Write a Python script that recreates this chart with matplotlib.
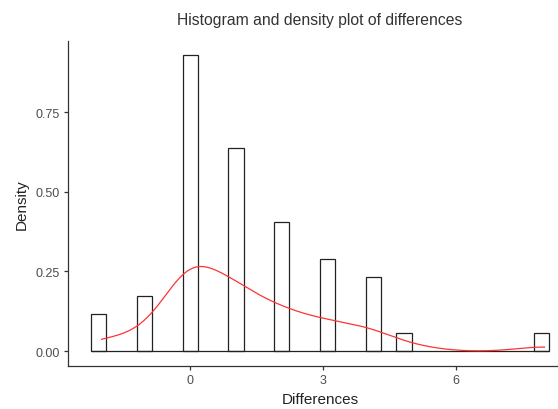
import numpy as np
import matplotlib
matplotlib.use('Agg')
import matplotlib.pyplot as plt

plt.rcParams['font.family'] = ['Liberation Sans', 'DejaVu Sans']

# observed differences and how often each one occurs
diff_values = [-2, -1, 0, 1, 2, 3, 4, 5, 8]
diff_counts = [2, 3, 16, 11, 7, 5, 4, 1, 1]

data = np.repeat(diff_values, diff_counts).astype(float)
n = len(data)

# ggplot2 style binning: 30 bins, boundary at width/2
n_bins = 30
width = (data.max() - data.min()) / (n_bins - 1)
boundary = width / 2
shift = np.floor((data.min() - boundary) / width)
origin = boundary + shift * width
edges = origin + width * np.arange(0, n_bins + 2)
edges = edges[edges <= data.max() + width]
# right-closed bins
idx = np.searchsorted(edges, data - 1e-9, side='left') - 1
counts = np.bincount(idx, minlength=len(edges) - 1)[:len(edges) - 1]
dens = counts / (n * width)
centers = (edges[:-1] + edges[1:]) / 2

# gaussian kde with bw.nrd0
q75, q25 = np.percentile(data, [75, 25])
bw = 0.9 * min(np.std(data, ddof=1), (q75 - q25) / 1.34) * n ** -0.2
xs = np.linspace(data.min(), data.max(), 512)
kde = np.exp(-0.5 * ((xs[:, None] - data[None, :]) / bw) ** 2).sum(axis=1) / (n * bw * np.sqrt(2 * np.pi))

fig = plt.figure(figsize=(5.58, 4.10), dpi=100)
ax = fig.add_axes([68 / 558, 43 / 410, 504 / 558, 325.5 / 410])

nz = counts > 0
ax.bar(centers[nz], dens[nz], width=width, facecolor='white', edgecolor='#222222', linewidth=0.9, zorder=2)
# empty bins only show as the baseline
ax.hlines(0, edges[0], edges[-1], color='#222222', linewidth=0.9, zorder=2)
ax.plot(xs, kde, color='#ff3333', linewidth=0.9, zorder=3)

lo, hi = edges[0], edges[-1]
pad = (hi - lo) * 0.05
ax.set_xlim(lo - pad, hi + pad)
ymax = dens.max()
ax.set_ylim(-ymax * 0.05, ymax * 1.05)
ax.set_xticks([0, 3, 6])
ax.set_yticks([0, 0.25, 0.5, 0.75])
ax.set_yticklabels(['0.00', '0.25', '0.50', '0.75'])

for s in ['top', 'right']:
    ax.spines[s].set_visible(False)
for s in ['left', 'bottom']:
    ax.spines[s].set_color('#333333')
    ax.spines[s].set_linewidth(0.9)
ax.tick_params(colors='#333333', labelcolor='#4d4d4d', labelsize=9, length=3, width=0.9, pad=3)

ax.set_xlabel('Differences', fontsize=11, color='#222222', labelpad=4)
ax.set_ylabel('Density', fontsize=11, color='#222222', labelpad=5)
fig.text(320 / 558, 1 - 21 / 410, 'Histogram and density plot of differences',
         ha='center', va='center', fontsize=11.3, color='#333333')

plt.savefig('out.png', dpi=100)
